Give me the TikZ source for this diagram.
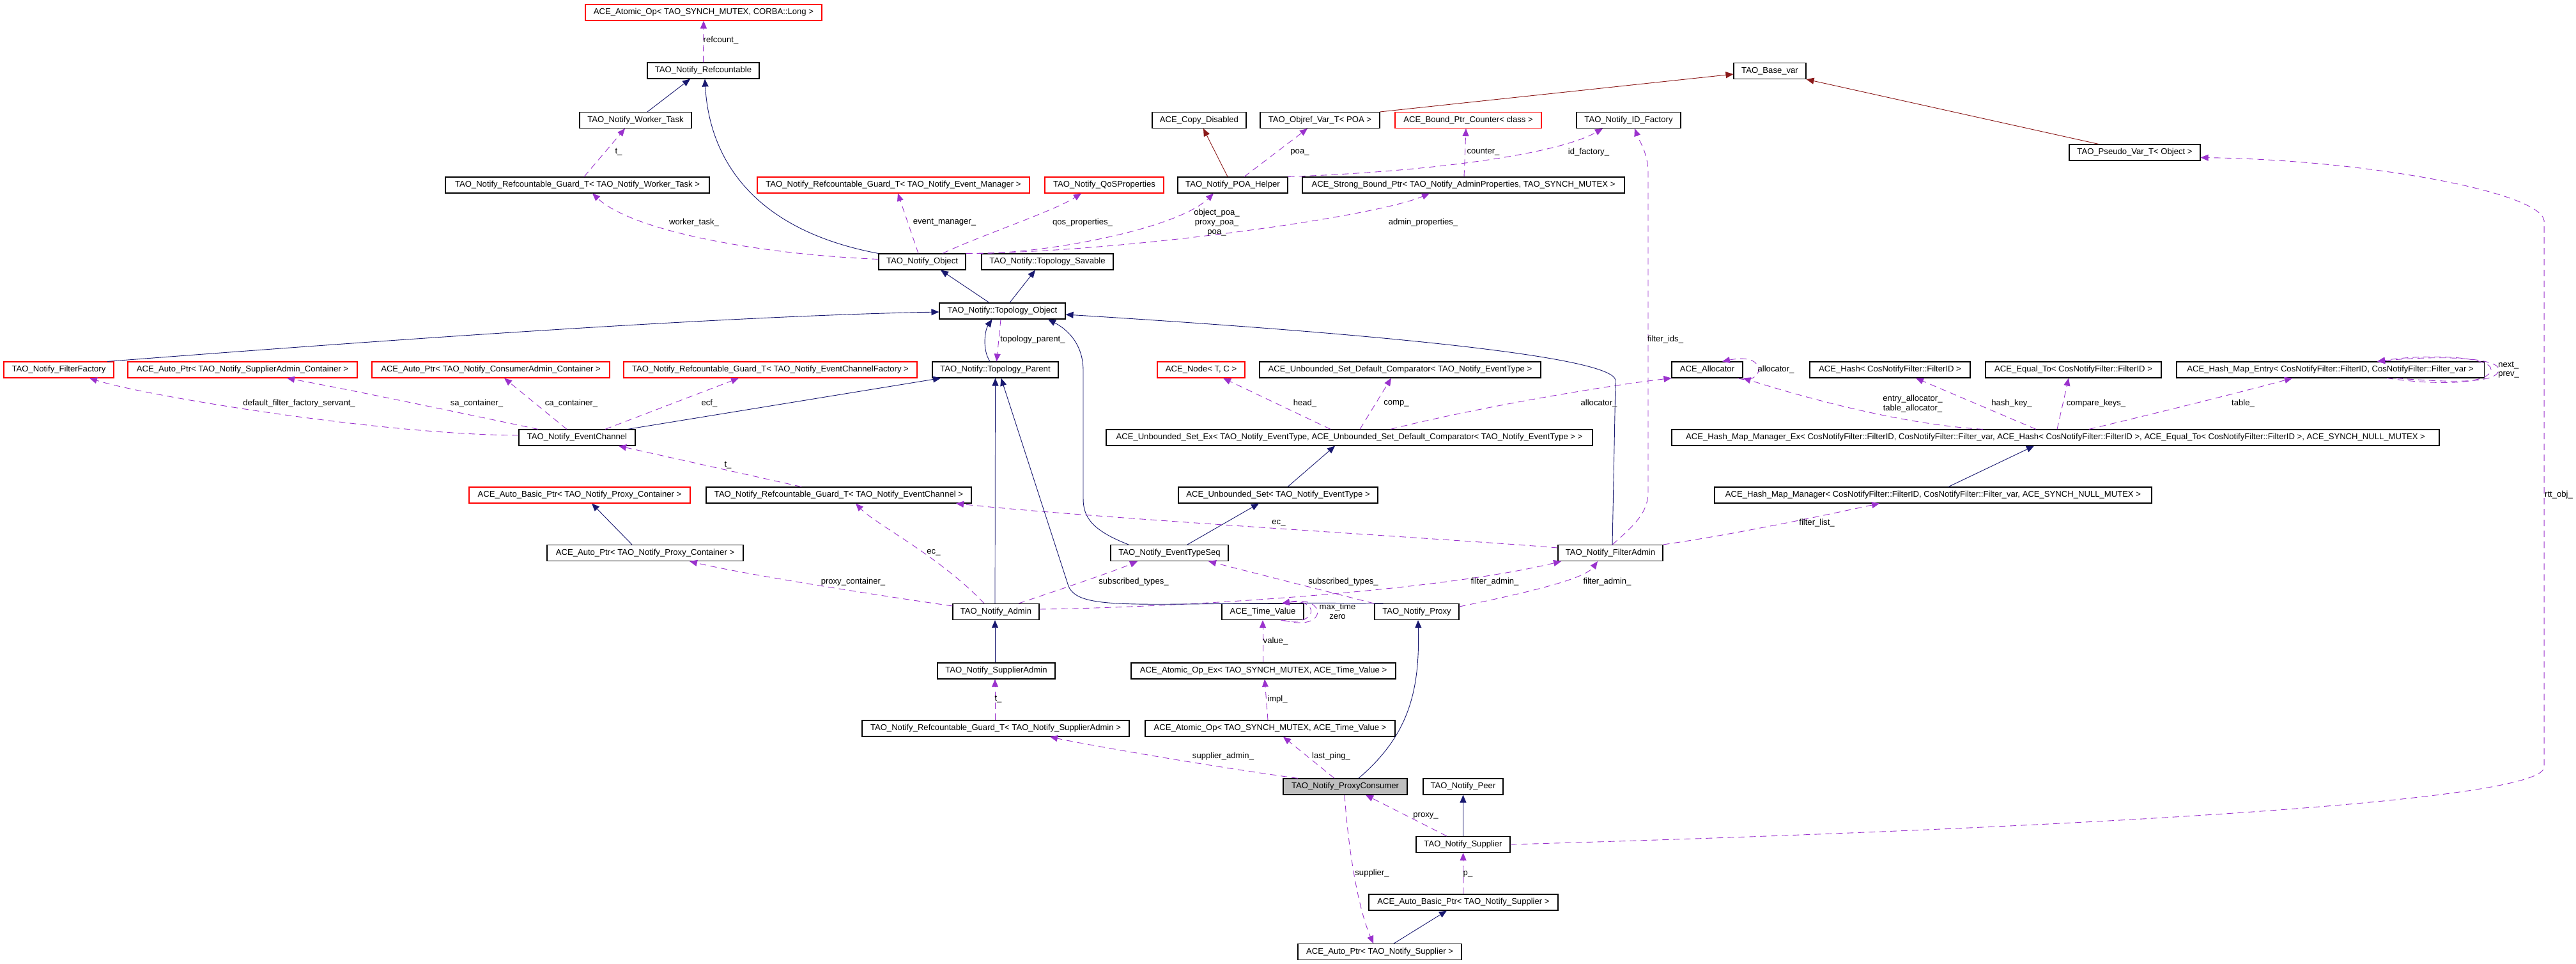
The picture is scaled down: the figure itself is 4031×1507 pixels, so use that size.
\documentclass[tikz,border=0pt]{standalone}
\usepackage{fontspec}
\setmainfont{Liberation Sans}
\usetikzlibrary{arrows.meta}
\definecolor{inhcol}{HTML}{191970}
\definecolor{usecol}{HTML}{9A32CD}
\definecolor{protcol}{HTML}{8B1A1A}
\definecolor{pcfill}{HTML}{BFBFBF}
\newcommand{\dfont}{\fontsize{13.1}{14.7}\selectfont}
\begin{document}
\begin{tikzpicture}[x=1pt,y=-1pt,
  box/.style={draw=black,line width=1.1pt,minimum height=25pt,inner xsep=4pt,inner ysep=0pt,font=\dfont,fill=white},
  redbox/.style={box,draw=red},
  lbl/.style={font=\dfont,inner sep=0pt,align=center},
  inh/.style={draw=inhcol,line width=0.9pt,-{Triangle[length=12pt,width=10pt]}},
  use/.style={draw=usecol,line width=0.9pt,dash pattern=on 10pt off 7pt,-{Triangle[length=12pt,width=10pt]}},
  prot/.style={draw=protcol,line width=0.9pt,-{Triangle[length=12pt,width=10pt]}}]
\fill[white] (0,0) rectangle (4031,1507);
\useasboundingbox (0,0) rectangle (4031,1507);

% nodes
\node[redbox,minimum width=370pt] (atomiclong) at (1101,19.5) {ACE\_Atomic\_Op< TAO\_SYNCH\_MUTEX, CORBA::Long >};
\node[box,minimum width=175pt] (refc) at (1100.5,110.5) {TAO\_Notify\_Refcountable};
\node[box,minimum width=113pt] (basevar) at (2769.5,111) {TAO\_Base\_var};
\node[box,minimum width=175pt] (worker) at (994.5,188) {TAO\_Notify\_Worker\_Task};
\node[box,minimum width=147pt] (copydis) at (1876.5,188) {ACE\_Copy\_Disabled};
\node[box,minimum width=187pt] (objref) at (2065.5,188) {TAO\_Objref\_Var\_T< POA >};
\node[redbox,minimum width=229pt] (boundctr) at (2297.5,188) {ACE\_Bound\_Ptr\_Counter< class >};
\node[box,minimum width=163pt] (idfact) at (2548.5,188) {TAO\_Notify\_ID\_Factory};
\node[box,minimum width=205pt] (pseudo) at (3340.5,238.5) {TAO\_Pseudo\_Var\_T< Object >};
\node[box,minimum width=413pt] (guardwt) at (903.5,289.5) {TAO\_Notify\_Refcountable\_Guard\_T< TAO\_Notify\_Worker\_Task >};
\node[redbox,minimum width=426pt] (guardem) at (1398,289.5) {TAO\_Notify\_Refcountable\_Guard\_T< TAO\_Notify\_Event\_Manager >};
\node[redbox,minimum width=186pt] (qos) at (1728,289.5) {TAO\_Notify\_QoSProperties};
\node[box,minimum width=172pt] (poahelper) at (1929,289.5) {TAO\_Notify\_POA\_Helper};
\node[box,minimum width=504pt] (strong) at (2290,289.5) {ACE\_Strong\_Bound\_Ptr< TAO\_Notify\_AdminProperties, TAO\_SYNCH\_MUTEX >};
\node[box,minimum width=136pt] (object) at (1443,409.5) {TAO\_Notify\_Object};
\node[box,minimum width=206pt] (savable) at (1639,409.5) {TAO\_Notify::Topology\_Savable};
\node[box,minimum width=197pt] (topobj) at (1568.5,486.5) {TAO\_Notify::Topology\_Object};
\node[redbox,minimum width=172pt] (filterfac) at (92,578.5) {TAO\_Notify\_FilterFactory};
\node[redbox,minimum width=359pt] (sacont) at (379.5,578.5) {ACE\_Auto\_Ptr< TAO\_Notify\_SupplierAdmin\_Container >};
\node[redbox,minimum width=372pt] (cacont) at (768,578.5) {ACE\_Auto\_Ptr< TAO\_Notify\_ConsumerAdmin\_Container >};
\node[redbox,minimum width=459pt] (guardecf) at (1205.5,578.5) {TAO\_Notify\_Refcountable\_Guard\_T< TAO\_Notify\_EventChannelFactory >};
\node[box,minimum width=197pt] (topparent) at (1557.5,578.5) {TAO\_Notify::Topology\_Parent};
\node[redbox,minimum width=137pt] (acenode) at (1879.5,578.5) {ACE\_Node< T, C >};
\node[box,minimum width=440pt] (defcomp) at (2191,578.5) {ACE\_Unbounded\_Set\_Default\_Comparator< TAO\_Notify\_EventType >};
\node[box,minimum width=111pt] (alloc) at (2671.5,578.5) {ACE\_Allocator};
\node[box,minimum width=251pt] (hash) at (2957.5,578.5) {ACE\_Hash< CosNotifyFilter::FilterID >};
\node[box,minimum width=275pt] (equal) at (3244.5,578.5) {ACE\_Equal\_To< CosNotifyFilter::FilterID >};
\node[box,minimum width=481pt] (hmentry) at (3646.5,578.5) {ACE\_Hash\_Map\_Entry< CosNotifyFilter::FilterID, CosNotifyFilter::Filter\_var >};
\node[box,minimum width=182pt] (ec) at (903,684.5) {TAO\_Notify\_EventChannel};
\node[box,minimum width=761pt] (usetex) at (2111.5,684.5) {ACE\_Unbounded\_Set\_Ex< TAO\_Notify\_EventType, ACE\_Unbounded\_Set\_Default\_Comparator< TAO\_Notify\_EventType > >};
\node[box,minimum width=1201pt] (hmmex) at (3216.5,684.5) {ACE\_Hash\_Map\_Manager\_Ex< CosNotifyFilter::FilterID, CosNotifyFilter::Filter\_var, ACE\_Hash< CosNotifyFilter::FilterID >, ACE\_Equal\_To< CosNotifyFilter::FilterID >, ACE\_SYNCH\_NULL\_MUTEX >};
\node[redbox,minimum width=346pt] (abpcont) at (907,774.5) {ACE\_Auto\_Basic\_Ptr< TAO\_Notify\_Proxy\_Container >};
\node[box,minimum width=415pt] (guardec) at (1312.5,774.5) {TAO\_Notify\_Refcountable\_Guard\_T< TAO\_Notify\_EventChannel >};
\node[box,minimum width=312pt] (uset) at (2000,774.5) {ACE\_Unbounded\_Set< TAO\_Notify\_EventType >};
\node[box,minimum width=684pt] (hmm) at (3025,774.5) {ACE\_Hash\_Map\_Manager< CosNotifyFilter::FilterID, CosNotifyFilter::Filter\_var, ACE\_SYNCH\_NULL\_MUTEX >};
\node[box,minimum width=307pt] (apcont) at (1009.5,865) {ACE\_Auto\_Ptr< TAO\_Notify\_Proxy\_Container >};
\node[box,minimum width=184pt] (ets) at (1830,865) {TAO\_Notify\_EventTypeSeq};
\node[box,minimum width=164pt] (filteradmin) at (2520,865) {TAO\_Notify\_FilterAdmin};
\node[box,minimum width=135pt] (admin) at (1558.5,957) {TAO\_Notify\_Admin};
\node[box,minimum width=128pt] (timeval) at (1976,957) {ACE\_Time\_Value};
\node[box,minimum width=132pt] (proxy) at (2217,957) {TAO\_Notify\_Proxy};
\node[box,minimum width=184pt] (supadmin) at (1559,1049.5) {TAO\_Notify\_SupplierAdmin};
\node[box,minimum width=414pt] (atomicex) at (1977,1049.5) {ACE\_Atomic\_Op\_Ex< TAO\_SYNCH\_MUTEX, ACE\_Time\_Value >};
\node[box,minimum width=418pt] (guardsa) at (1558,1139.5) {TAO\_Notify\_Refcountable\_Guard\_T< TAO\_Notify\_SupplierAdmin >};
\node[box,minimum width=391pt] (atomictv) at (1987.5,1139.5) {ACE\_Atomic\_Op< TAO\_SYNCH\_MUTEX, ACE\_Time\_Value >};
\node[box,minimum width=194pt,fill=pcfill] (pc) at (2105,1230.5) {TAO\_Notify\_ProxyConsumer};
\node[box,minimum width=125pt] (peer) at (2289.5,1230.5) {TAO\_Notify\_Peer};
\node[box,minimum width=147pt] (supplier) at (2289.5,1321) {TAO\_Notify\_Supplier};
\node[box,minimum width=296pt] (abpsup) at (2290,1411.5) {ACE\_Auto\_Basic\_Ptr< TAO\_Notify\_Supplier >};
\node[box,minimum width=256pt] (apsup) at (2159,1489) {ACE\_Auto\_Ptr< TAO\_Notify\_Supplier >};

% edges
\draw[use] (refc.north) -- (atomiclong.south);
\draw[inh] ([xshift=18.5pt]worker.north) -- ([xshift=-20.5pt]refc.south);
\draw[inh] (object.north west) .. controls (1180,360) and (1110,250) .. ([xshift=2.5pt]refc.south);
\draw[use] ([xshift=10.5pt]guardwt.north) -- ([xshift=-16.5pt]worker.south);
\draw[use] ([yshift=4pt]object.west) .. controls (1175,397) and (987,359) .. ([xshift=23.5pt]guardwt.south);
\draw[use] ([xshift=-6pt]object.north) -- ([xshift=7pt]guardem.south);
\draw[use] ([xshift=32pt]object.north) .. controls (1530,370) and (1650,330) .. ([xshift=-36pt]qos.south);
\draw[use] (object.north east) .. controls (1620,400) and (1840,360) .. ([xshift=-30pt]poahelper.south);
\draw[use] (object.north east) .. controls (1750,395) and (2150,340) .. ([xshift=-53pt]strong.south);
\draw[prot] (objref.north east) -- ([yshift=-5pt]basevar.west);
\draw[prot] ([xshift=-8pt]poahelper.north) -- ([xshift=6.5pt]copydis.south);
\draw[use] ([xshift=18pt]poahelper.north) -- ([xshift=-19.5pt]objref.south);
\draw[use] ([xshift=1pt]strong.north) -- ([xshift=-3.5pt]boundctr.south);
\draw[use] (poahelper.north east) .. controls (2250,268) and (2440,240) .. ([xshift=-40.5pt]idfact.south);
\draw[prot] ([xshift=-56.5pt]pseudo.north) -- (basevar.south east);
\draw[use] (supplier.east) .. controls (3100,1300) and (3981,1260) .. (3981,1200) -- (3981,345) .. controls (3975,300) and (3700,250) .. ([yshift=-8pt]pseudo.east);
\draw[inh] ([xshift=-20.5pt]topobj.north) -- ([xshift=29pt]object.south);
\draw[inh] ([xshift=11.5pt]topobj.north) -- ([xshift=-19pt]savable.south);
\draw[inh] ([xshift=76pt]filterfac.north) .. controls (500,540) and (1100,495) .. ([yshift=-1.5pt]topobj.west);
\draw[inh] ([xshift=-8.5pt]topparent.north) .. controls (1536,545) and (1542,515) .. ([xshift=-16pt]topobj.south);
\draw[use] ([xshift=-2.5pt]topobj.south) -- ([xshift=2pt]topparent.north);
\draw[inh] ([xshift=-64pt]ets.north) .. controls (1710,830) and (1695,810) .. (1695,780) -- (1695,580) .. controls (1695,530) and (1660,510) .. ([xshift=71.5pt]topobj.south);
\draw[inh] ([xshift=28pt]ets.north) -- ([xshift=-30pt]uset.south);
\draw[inh] ([xshift=15pt]uset.north) -- ([xshift=-22.5pt]usetex.south);
\draw[use] ([xshift=-29.5pt]usetex.north) -- ([xshift=34.5pt]acenode.south);
\draw[use] ([xshift=16.5pt]usetex.north) -- ([xshift=-14pt]defcomp.south);
\draw[use] ([xshift=64.5pt]usetex.north) .. controls (2300,640) and (2500,605) .. (alloc.south west);
\draw[inh] ([xshift=3pt]filteradmin.north) -- (2528,595) .. controls (2525,560) and (2200,525) .. ([yshift=-5.5pt]topobj.east);
\draw[use] ([xshift=3pt]filteradmin.north) .. controls (2560,820) and (2579,800) .. (2579,770) -- (2579,270) .. controls (2579,240) and (2565,220) .. ([xshift=9.5pt]idfact.south);
\draw[use] ([xshift=48pt]alloc.south) .. controls (2760,605) and (2770,550) .. ([xshift=23.5pt]alloc.north);
\draw[use] ([xshift=-113.5pt]hmmex.north) .. controls (2990,665) and (2850,630) .. (alloc.south east);
\draw[use] ([xshift=-30.5pt]hmmex.north) -- ([xshift=40.5pt]hash.south);
\draw[use] ([xshift=2.5pt]hmmex.north) -- ([xshift=-7.5pt]equal.south);
\draw[use] ([xshift=52.5pt]hmmex.north) .. controls (3400,640) and (3520,610) .. ([xshift=-59.5pt]hmentry.south);
\draw[use] ([xshift=103.5pt]hmentry.south) .. controls (3850,600) and (3910,598) .. (3910,578) .. controls (3910,560) and (3820,555) .. ([xshift=73.5pt]hmentry.north);
\draw[use] ([xshift=88.5pt]hmentry.south) .. controls (3830,605) and (3898,598) .. (3898,578) .. controls (3898,558) and (3800,553) .. ([xshift=73.5pt]hmentry.north);
\draw[inh] ([xshift=24pt]hmm.north) -- ([xshift=-33.5pt]hmmex.south);
\draw[use] (filteradmin.north east) .. controls (2720,835) and (2860,805) .. ([xshift=-84pt]hmm.south);
\draw[use] ([yshift=8pt]filteradmin.west) .. controls (2300,845) and (1700,810) .. ([xshift=183.5pt]guardec.south);
\draw[use] ([yshift=3.5pt]ec.west) .. controls (600,680) and (230,620) .. ([xshift=48pt]filterfac.south);
\draw[use] ([xshift=-61pt]ec.north) .. controls (740,650) and (560,612) .. ([xshift=69.5pt]sacont.south);
\draw[use] ([xshift=-16pt]ec.north) -- ([xshift=21pt]cacont.south);
\draw[use] ([xshift=44pt]ec.north) -- ([xshift=-49.5pt]guardecf.south);
\draw[inh] ([xshift=79pt]ec.north) -- ([xshift=-85.5pt]topparent.south);
\draw[use] ([xshift=-58.5pt]guardec.north) -- ([xshift=65pt]ec.south);
\draw[inh] ([xshift=-20.5pt]apcont.north) -- ([xshift=19pt]abpcont.south);
\draw[use] ([yshift=9pt]admin.west) .. controls (1330,925) and (1150,895) .. ([xshift=69.5pt]apcont.south);
\draw[use] ([xshift=-18.5pt]admin.north) .. controls (1470,870) and (1370,820) .. ([xshift=26.5pt]guardec.south);
\draw[inh,line width=0.7pt] ([xshift=-1.5pt]admin.north) -- (topparent.south);
\draw[use] ([xshift=35.5pt]admin.north) .. controls (1650,925) and (1740,895) .. ([xshift=-50pt]ets.south);
\draw[use] ([yshift=4pt]admin.east) .. controls (1850,950) and (2250,925) .. ([xshift=-77pt]filteradmin.south);
\draw[inh] ([xshift=-52pt]proxy.north) .. controls (1800,940) and (1690,960) .. (1672,917) -- ([xshift=9pt]topparent.south);
\draw[use] ([xshift=-67pt]proxy.north) -- ([xshift=61pt]ets.south);
\draw[use] ([yshift=8pt]proxy.east) .. controls (2400,925) and (2480,905) .. ([xshift=-20pt]filteradmin.south);
\draw[use] ([xshift=32pt]timeval.south) .. controls (2078,990) and (2078,930) .. ([xshift=30pt]timeval.north);
\draw[use] ([xshift=28pt]timeval.south) .. controls (2065,982) and (2065,935) .. ([xshift=30pt]timeval.north);
\draw[use] ([xshift=-1pt]atomicex.north) -- (timeval.south);
\draw[use] ([xshift=-3.5pt]atomictv.north) -- ([xshift=2pt]atomicex.south);
\draw[inh,line width=0.7pt] ([xshift=-2pt]supadmin.north) -- ([xshift=-1.5pt]admin.south);
\draw[use] ([xshift=-1pt]guardsa.north) -- ([xshift=-2pt]supadmin.south);
\draw[use] ([xshift=-74pt]pc.north) .. controls (1900,1200) and (1700,1165) .. ([xshift=85pt]guardsa.south);
\draw[use] ([xshift=-17pt]pc.north) -- ([xshift=20.5pt]atomictv.south);
\draw[inh] ([xshift=21pt]pc.north) .. controls (2205,1150) and (2222,1080) .. ([xshift=2pt]proxy.south);
\draw[inh,line width=0.7pt] (supplier.north) -- (peer.south);
\draw[use] ([xshift=-25.5pt]supplier.north) -- ([xshift=32pt]pc.south);
\draw[use] ([xshift=-1pt]pc.south) .. controls (2110,1330) and (2125,1420) .. ([xshift=-10pt]apsup.north);
\draw[use] (abpsup.north) -- (supplier.south);
\draw[inh] ([xshift=22pt]apsup.north) -- ([xshift=-26pt]abpsup.south);

% labels
\node[lbl] (L1) at (1128,63) {refcount\_};
\node[lbl] (L2) at (968,238) {t\_};
\node[lbl] (L3) at (1086,348) {worker\_task\_};
\node[lbl] (L4) at (1478,348) {event\_manager\_};
\node[lbl] (L5) at (1694,348) {qos\_properties\_};
\node[lbl] (L6) at (2034,238) {poa\_};
\node[lbl] (L7) at (2321,238) {counter\_};
\node[lbl] (L8) at (2486,238) {id\_factory\_};
\node[lbl] (L9) at (1904,348) {object\_poa\_\\proxy\_poa\_\\poa\_};
\node[lbl] (L10) at (2227,348) {admin\_properties\_};
\node[lbl] (L11) at (468,631) {default\_filter\_factory\_servant\_};
\node[lbl] (L12) at (746,631) {sa\_container\_};
\node[lbl] (L13) at (894,631) {ca\_container\_};
\node[lbl] (L14) at (1616,531) {topology\_parent\_};
\node[lbl] (L15) at (1110,631) {ecf\_};
\node[lbl] (L16) at (2042,631) {head\_};
\node[lbl] (L17) at (2185,631) {comp\_};
\node[lbl] (L18) at (1139,728) {t\_};
\node[lbl] (L19) at (2001,818) {ec\_};
\node[lbl] (L20) at (2606,531) {filter\_ids\_};
\node[lbl] (L21) at (2779,578) {allocator\_};
\node[lbl] (L22) at (2502,631) {allocator\_};
\node[lbl] (L23) at (2993,631.5) {entry\_allocator\_\\table\_allocator\_};
\node[lbl] (L24) at (3148,631) {hash\_key\_};
\node[lbl] (L25) at (3280,631) {compare\_keys\_};
\node[lbl] (L26) at (3510,631) {table\_};
\node[lbl,anchor=west,align=left] (L27) at (3909,578.5) {next\_\\prev\_};
\node[lbl] (L28) at (2843,818) {filter\_list\_};
\node[lbl] (L29) at (4004,774) {rtt\_obj\_};
\node[lbl] (L30) at (1461,864) {ec\_};
\node[lbl] (L31) at (1335,910) {proxy\_container\_};
\node[lbl] (L32) at (1774,910) {subscribed\_types\_};
\node[lbl] (L33) at (2102,910) {subscribed\_types\_};
\node[lbl] (L34) at (2339,910) {filter\_admin\_};
\node[lbl] (L35) at (2515,910) {filter\_admin\_};
\node[lbl] (L36) at (2093,956.5) {max\_time\\zero};
\node[lbl] (L37) at (1996,1003) {value\_};
\node[lbl] (L38) at (1999,1094) {impl\_};
\node[lbl] (L39) at (1562,1094) {t\_};
\node[lbl] (L40) at (1914,1183) {supplier\_admin\_};
\node[lbl] (L41) at (2083,1183) {last\_ping\_};
\node[lbl] (L42) at (2231,1276) {proxy\_};
\node[lbl] (L43) at (2147,1366) {supplier\_};
\node[lbl] (L44) at (2297,1367) {p\_};
\end{tikzpicture}
\end{document}
